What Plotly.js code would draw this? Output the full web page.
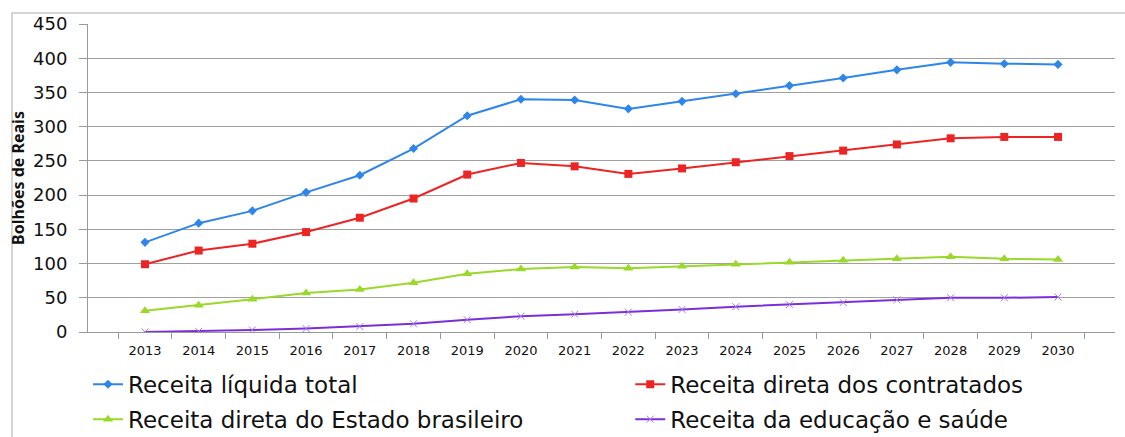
<!DOCTYPE html>
<html>
<head>
<meta charset="utf-8">
<script src="https://cdn.plot.ly/plotly-3.0.1.min.js"></script>
<style>
  body { margin: 0; background: #fff; }
  #chart { width: 1125px; height: 437px; }
</style>
</head>
<body>
<div id="chart"></div>
<script>
  // anos e séries (bilhões de reais)
  const anos = ["2013", "2014", "2015", "2016", "2017", "2018", "2019", "2020", "2021",
                "2022", "2023", "2024", "2025", "2026", "2027", "2028", "2029", "2030"];
  const receitaTotal = [131, 159, 177, 204, 229, 268, 316, 340, 339, 326, 337, 348, 360, 371, 383, 394, 392, 391];
  const receitaContratados = [99, 119, 129, 146, 167, 195, 230, 247, 242, 231, 239, 248, 257, 265, 274, 283, 285, 285];
  const receitaEstado = [31, 39, 48, 57, 62, 72, 85, 92, 95, 93, 96, 99, 102, 105, 107, 110, 107, 106];
  const receitaEducSaude = [0, 1, 3, 5, 8, 12, 18, 23, 26, 29, 33, 37, 40, 43, 47, 50, 50, 51];

  const traces = [
    {
      x: anos, y: receitaTotal, name: "Receita líquida total",
      type: "scatter", mode: "lines+markers", legend: "legend", legendgroup: "a",
      line: { color: "#2f86ea", width: 2 },
      marker: { symbol: "diamond", size: 7, color: "#2f86ea" }
    },
    {
      x: anos, y: receitaContratados, name: "Receita direta dos contratados",
      type: "scatter", mode: "lines+markers", legend: "legend2", legendgroup: "b",
      line: { color: "#ec2424", width: 2 },
      marker: { symbol: "square", size: 8, color: "#ec2424" }
    },
    {
      x: anos, y: receitaEstado, name: "Receita direta do Estado brasileiro",
      type: "scatter", mode: "lines+markers", legend: "legend", legendgroup: "c",
      line: { color: "#9ad92a", width: 2 },
      marker: { symbol: "triangle-up", size: 9, color: "#9ad92a" }
    },
    {
      x: anos, y: receitaEducSaude, name: "Receita da educação e saúde",
      type: "scatter", mode: "lines+markers", legend: "legend2", legendgroup: "d",
      line: { color: "#7a2fd8", width: 2 },
      marker: { symbol: "x-thin", size: 7, line: { color: "#a878ee", width: 1 } }
    }
  ];

  const legendFont = { family: "DejaVu Sans, sans-serif", size: 23, color: "#111" };

  const layout = {
    width: 1125,
    height: 437,
    margin: { l: 88, r: 10, t: 24, b: 105, autoexpand: false },
    paper_bgcolor: "#fff",
    plot_bgcolor: "#fff",
    font: { family: "DejaVu Sans, sans-serif", color: "#111" },
    showlegend: true,
    xaxis: {
      type: "category",
      tickson: "boundaries",
      ticks: "outside",
      ticklen: 6,
      tickcolor: "#999",
      ticklabelstandoff: 6,
      showgrid: false,
      showline: true,
      linecolor: "#999",
      tickfont: { size: 13 },
      fixedrange: true
    },
    yaxis: {
      range: [0, 450],
      dtick: 50,
      ticks: "outside",
      ticklen: 8,
      tickcolor: "#999",
      ticklabelstandoff: 8,
      gridcolor: "#a0a0a0",
      showline: true,
      linecolor: "#999",
      zeroline: false,
      tickfont: { size: 18 },
      title: { text: "<b>Bolhões de Reais</b>", font: { family: "Noto Sans, sans-serif", size: 16 }, standoff: 4 },
      fixedrange: true
    },
    legend: {
      orientation: "v",
      x: 0.0, xanchor: "left",
      y: -0.10, yanchor: "top",
      tracegroupgap: 2,
      font: legendFont,
      bgcolor: "rgba(0,0,0,0)"
    },
    legend2: {
      orientation: "v",
      x: 0.528, xanchor: "left",
      y: -0.10, yanchor: "top",
      tracegroupgap: 2,
      font: legendFont,
      bgcolor: "rgba(0,0,0,0)"
    },
    shapes: [
      {
        type: "rect", xref: "paper", yref: "paper",
        x0: -0.074, x1: 1.02, y0: -0.4, y1: 1.036,
        line: { color: "#c8c8c8", width: 1.5 }
      }
    ]
  };

  Plotly.newPlot("chart", traces, layout, { displayModeBar: false, staticPlot: true });
</script>
</body>
</html>
